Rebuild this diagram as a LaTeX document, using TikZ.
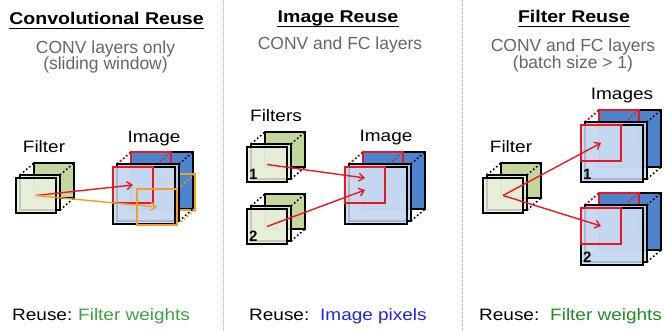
\documentclass[tikz,border=0pt]{standalone}
\usepackage{fontspec}
\setmainfont{Liberation Sans}
\newfontfamily\widesans[FakeStretch=1.15]{Liberation Sans}
\usetikzlibrary{arrows.meta}

\definecolor{filtfront}{HTML}{E6EED9}
\definecolor{filtback}{HTML}{C3D69B}
\definecolor{imgfront}{HTML}{C6D9F1}
\definecolor{imgback}{HTML}{4D84CE}
\definecolor{winred}{HTML}{EC1620}
\definecolor{winorange}{HTML}{F59E22}
\definecolor{subgrey}{HTML}{666666}
\definecolor{wgreenlight}{HTML}{3DA53D}
\definecolor{wgreen}{HTML}{1E8E1E}
\definecolor{wblue}{HTML}{2222EE}

\tikzset{
  sq/.style={draw=black, line width=1.5pt},
  win/.style={line width=2.6pt},
  dots/.style={line width=1.6pt, dash pattern=on 1.6pt off 2.4pt},
  reuse/.style={-{Straight Barb[length=5pt,width=8pt]}, line width=1.4pt},
  title/.style={font=\widesans\bfseries\fontsize{17}{19}\selectfont, anchor=base, inner sep=0pt},
  uline/.style={line width=1.4pt},
  sub/.style={font=\fontsize{17.5}{19}\selectfont, text=subgrey, anchor=base, inner sep=0pt},
  lbl/.style={font=\widesans\fontsize{16.5}{18}\selectfont, anchor=base, inner sep=0pt},
  bot/.style={font=\widesans\fontsize{16.5}{18}\selectfont, anchor=base west, inner sep=0pt},
  num/.style={font=\bfseries\fontsize{15}{15}\selectfont, anchor=south west, inner sep=2pt},
  sep/.style={draw=black!30, line width=0.8pt, dash pattern=on 0.8pt off 1.2pt}
}

% filter stack: name, x, y of the front square
\newcommand{\filterstack}[3]{%
  \draw[sq, fill=filtback] (#2+18,#3-15) rectangle ++(40,35);
  \draw[dots] (#2+4,#3-3) -- ++(14,-12);
  \draw[dots] (#2+44,#3-3) -- ++(14,-12);
  \draw[dots] (#2+44,#3+32) -- ++(14,-12);
  \draw[sq, fill=filtfront, fill opacity=0.85] (#2+4,#3-3) rectangle ++(40,35);
  \draw[sq, fill=filtfront, fill opacity=0.85] (#2,#3) rectangle ++(40,35);
  \coordinate (#1) at (#2+20,#3+17.5);
}

% image stack: name, x, y of the front square, windows dx/dy/colour/name
\newcommand{\imagestack}[4]{%
  \draw[sq, fill=imgback] (#2+18,#3-15) rectangle ++(62,57);
  \foreach \wx/\wy/\wc/\wn in {#4} {
    \draw[win, draw=\wc] (#2+18+\wx,#3-15+\wy) rectangle ++(40,36);
  }
  \draw[dots] (#2+4,#3-3) -- ++(14,-12);
  \draw[dots] (#2+66,#3-3) -- ++(14,-12);
  \draw[dots] (#2+66,#3+54) -- ++(14,-12);
  \foreach \wx/\wy/\wc/\wn in {#4} {
    \draw[dots, draw=\wc] (#2+4+\wx,#3-3+\wy) -- ++(14,-12);
    \draw[dots, draw=\wc] (#2+44+\wx,#3-3+\wy) -- ++(14,-12);
    \draw[dots, draw=\wc] (#2+44+\wx,#3+33+\wy) -- ++(14,-12);
  }
  \draw[sq, fill=imgfront, fill opacity=0.85] (#2+4,#3-3) rectangle ++(62,57);
  \draw[sq, fill=imgfront, fill opacity=0.85] (#2,#3) rectangle ++(62,57);
  \foreach \wx/\wy/\wc/\wn in {#4} {
    \draw[win, draw=\wc] (#2+\wx,#3+\wy) rectangle ++(40,36);
    \coordinate (\wn) at (#2+\wx+20,#3+\wy+18);
  }
  \coordinate (#1) at (#2+31,#3+28.5);
}

\begin{document}
\begin{tikzpicture}[x=1pt,y=-1pt]
  \useasboundingbox (0,0) rectangle (665,331);

  % panel separators
  \draw[sep] (223,0) -- (223,331);
  \draw[sep] (462,0) -- (462,331);

  % titles
  \node[title] (t1) at (106.5,25) {Convolutional Reuse};
  \node[title] (t2) at (338,23) {Image Reuse};
  \node[title] (t3) at (574,23) {Filter Reuse};
  \foreach \t in {t1,t2,t3}
    \draw[uline] ([yshift=-3.5pt]\t.base west) -- ([yshift=-3.5pt]\t.base east);

  \node[sub] (s1a) at (105.5,54) {CONV layers only};
  \node[sub] (s1b) at (105.5,70) {(sliding window)};
  \node[sub] (s2a) at (340,50) {CONV and FC layers};
  \node[sub] (s3a) at (573,52) {CONV and FC layers};
  \node[sub] (s3b) at (573,69) {(batch size > 1)};

  % Convolutional reuse
  \node[lbl] (l1f) at (44,153) {Filter};
  \node[lbl] (l1i) at (154,143) {Image};
  \filterstack{f1}{16}{178}
  \imagestack{i1}{113}{167}{0/0/winred/w1r, 24/22/winorange/w1o}

  % Image reuse
  \node[lbl] (l2f) at (276,122) {Filters};
  \node[lbl] (l2i) at (386,142) {Image};
  \filterstack{f2a}{247}{147}
  \filterstack{f2b}{247}{209}
  \node[num] (n2a) at (247,182) {1};
  \node[num] (n2b) at (247,244) {2};
  \imagestack{i2}{345}{167}{0/0/winred/w2}
  \coordinate (w2a) at ([yshift=7pt]w2);
  \coordinate (w2b) at ([yshift=-5pt]w2);

  % Filter reuse
  \node[lbl] (l3i) at (622,100) {Images};
  \node[lbl] (l3f) at (511,153) {Filter};
  \imagestack{i3a}{581}{125}{0/0/winred/w3a}
  \imagestack{i3b}{581}{208}{0/0/winred/w3b}
  \node[num] (n3a) at (581,182) {1};
  \node[num] (n3b) at (581,265) {2};
  \filterstack{f3}{483}{178}

  % arrows
  \draw[reuse, draw=winred] (f1) -- (w1r);
  \draw[reuse, draw=winorange] (f1) -- (w1o);
  \draw[reuse, draw=winred] (f2a) -- (w2a);
  \draw[reuse, draw=winred] (f2b) -- (w2b);
  \draw[reuse, draw=winred] (f3) -- (w3a);
  \draw[reuse, draw=winred] (f3) -- (w3b);

  % what is reused
  \node[bot] (r1) at (12,321) {Reuse:};
  \node[bot, text=wgreenlight] (v1) at (78,321) {Filter weights};
  \node[bot] (r2) at (249,321) {Reuse:};
  \node[bot, text=wblue] (v2) at (320,321) {Image pixels};
  \node[bot] (r3) at (479,321) {Reuse:};
  \node[bot, text=wgreen] (v3) at (550,321) {Filter weights};
\end{tikzpicture}
\end{document}
